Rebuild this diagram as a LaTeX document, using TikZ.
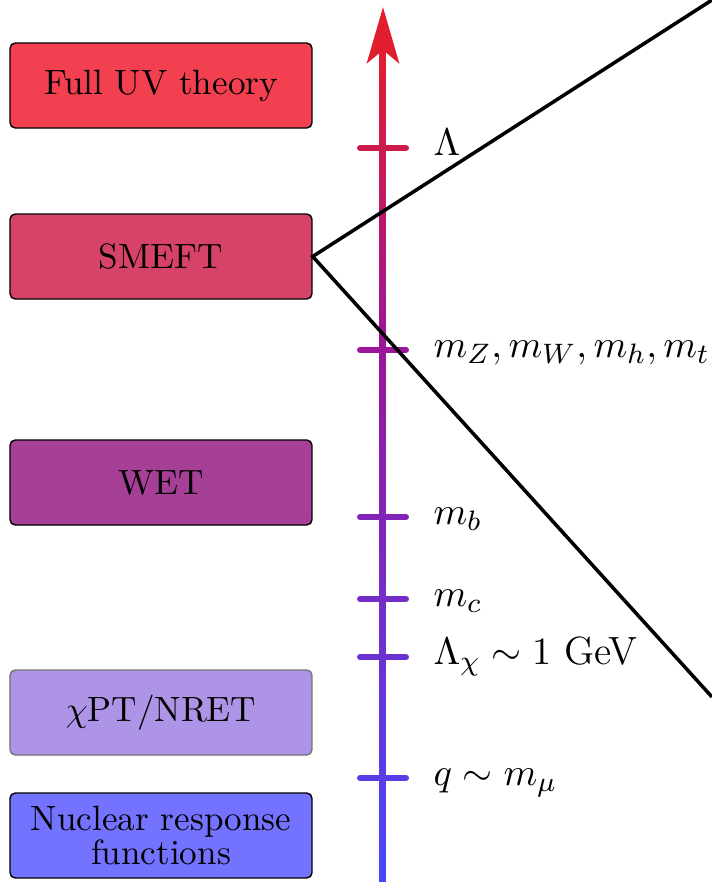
\documentclass[tikz,border=0pt]{standalone}
\usepackage{amsmath,amssymb}
\usepackage{tikz}
\usetikzlibrary{arrows.meta,positioning,calc}
\usepackage{xcolor}
\definecolor{uvred}{RGB}{243,64,80}
\definecolor{smeftrose}{RGB}{215,66,104}
\definecolor{wetplum}{RGB}{165,64,150}
\definecolor{chptlilac}{RGB}{173,148,230}
\definecolor{nuclblue}{RGB}{115,115,255}
\definecolor{axred}{RGB}{225,30,45}
\definecolor{axmid}{RGB}{155,22,155}
\definecolor{axblue}{RGB}{72,70,250}
\tikzset{
    ebox/.style={draw, rounded corners=1.5pt, fill=#1,
                 minimum width=3.02cm, minimum height=0.85cm,
                 inner sep=2pt, align=center},
    scaletick/.style={line width=0.06cm, line cap=round, draw=#1},
    scalelab/.style={anchor=mid west, inner sep=0pt,
                     font=\fontsize{11.2}{13.5}\selectfont},
}
\begin{document}
\begin{tikzpicture}[
    seg/.style={line width=0.07cm},
    edge/.style={line width=1pt, black}
]
    \useasboundingbox (0,0) rectangle (7.12,8.82);
    \node[ebox=uvred] (uv) at (1.61,7.965) {Full UV theory};
    \node[ebox=smeftrose] (smeft) at (1.61,6.255) {SMEFT};
    \node[ebox=wetplum] (wet) at (1.61,3.995) {WET};
    \node[ebox=chptlilac, draw=black!55] (chpt) at (1.61,1.695) {$\chi$PT/NRET};
    \node[ebox=nuclblue] (nucl) at (1.61,0.465)
        {Nuclear response\\[-2.3pt]functions};
    \coordinate (axbot) at (3.83,0);
    \coordinate (axtip) at (3.83,8.75);
    \foreach \i in {0,...,52}{
        \pgfmathtruncatemacro{\pct}{100*\i/52}
        \draw[seg, axmid!\pct!axblue] (3.83,\i/10) -- (3.83,\i/10+0.11);
    }
    \foreach \i in {53,...,82}{
        \pgfmathtruncatemacro{\pct}{100*(\i-53)/29}
        \draw[seg, axred!\pct!axmid] (3.83,\i/10) -- (3.83,\i/10+0.11);
    }
    \draw[seg, axred, -{Stealth[length=5.6mm, width=3.2mm, inset=1.3mm]}]
        (3.83,8.2) -- (axtip);
    \coordinate (tLam) at (3.83,7.34);
    \coordinate (tEW) at (3.83,5.32);
    \coordinate (tb) at (3.83,3.65);
    \coordinate (tc) at (3.83,2.83);
    \coordinate (tchi) at (3.83,2.25);
    \coordinate (tmu) at (3.83,1.04);
    \draw[scaletick=axred!70!axmid] ([xshift=-0.23cm]tLam) -- ([xshift=0.23cm]tLam);
    \draw[scaletick=axmid] ([xshift=-0.23cm]tEW) -- ([xshift=0.23cm]tEW);
    \draw[scaletick=axmid!69!axblue] ([xshift=-0.23cm]tb) -- ([xshift=0.23cm]tb);
    \draw[scaletick=axmid!53!axblue] ([xshift=-0.23cm]tc) -- ([xshift=0.23cm]tc);
    \draw[scaletick=axmid!42!axblue] ([xshift=-0.23cm]tchi) -- ([xshift=0.23cm]tchi);
    \draw[scaletick=axmid!20!axblue] ([xshift=-0.23cm]tmu) -- ([xshift=0.23cm]tmu);
    \node[scalelab] (lLam) at ([xshift=0.5cm]tLam) {$\Lambda$};
    \node[scalelab] (lEW) at ([xshift=0.5cm]tEW) {$m_Z, m_W, m_h, m_t$};
    \node[scalelab] (lb) at ([xshift=0.5cm]tb) {$m_b$};
    \node[scalelab] (lc) at ([xshift=0.5cm]tc) {$m_c$};
    \node[scalelab] (lchi) at ([xshift=0.5cm]tchi) {$\Lambda_\chi \sim 1~\text{GeV}$};
    \node[scalelab] (lmu) at ([xshift=0.5cm]tmu) {$q \sim m_\mu$};
    \coordinate (hi) at (7.12,8.82);
    \coordinate (lo) at (7.12,1.85);
    \draw[edge] (hi) -- (smeft.east) -- (lo);
\end{tikzpicture}
\end{document}
